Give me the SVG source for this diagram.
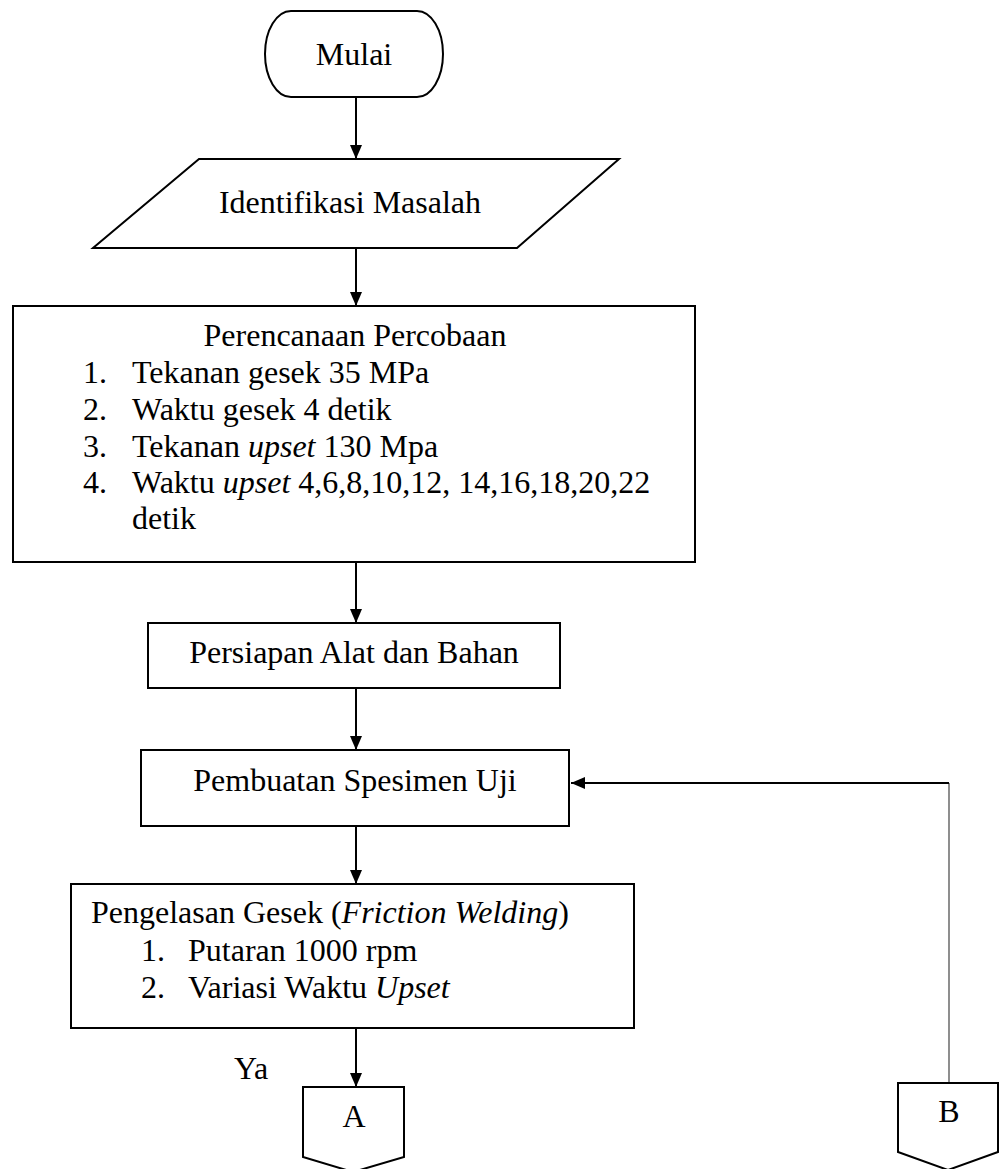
<svg xmlns="http://www.w3.org/2000/svg" width="1005" height="1169" viewBox="0 0 1005 1169">
<style>
.s{fill:#fff;stroke:#000;stroke-width:2}
.t{font-family:"Liberation Serif","Times New Roman",serif;font-size:32px;fill:#000}
.c{stroke:#000;stroke-width:2;fill:none}
.thin{stroke:#444;stroke-width:1.2;fill:none}
</style>
<defs>
<marker id="ah" markerUnits="userSpaceOnUse" markerWidth="14" markerHeight="12" refX="14" refY="6" orient="auto">
<path d="M0,0 L14,6 L0,12 z" fill="#000"/>
</marker>
</defs>
<rect width="1005" height="1169" fill="#fff"/>
<g id="connectors">
<line class="c" x1="356" y1="97" x2="356" y2="159" marker-end="url(#ah)"/>
<line class="c" x1="356" y1="248" x2="356" y2="306" marker-end="url(#ah)"/>
<line class="c" x1="356" y1="562" x2="356" y2="623" marker-end="url(#ah)"/>
<line class="c" x1="356" y1="688" x2="356" y2="750" marker-end="url(#ah)"/>
<line class="c" x1="356" y1="826" x2="356" y2="884" marker-end="url(#ah)"/>
<line class="c" x1="356" y1="1028" x2="356" y2="1087" marker-end="url(#ah)"/>
<line class="thin" x1="949" y1="1083" x2="949" y2="783"/>
<line class="c" x1="949" y1="783" x2="571" y2="783" marker-end="url(#ah)"/>
<text class="t" x="234" y="1079">Ya</text>
</g>
<g id="mulai">
<rect class="s" x="265" y="11" width="178" height="86" rx="26" ry="43"/>
<text class="t" x="354" y="65" text-anchor="middle">Mulai</text>
</g>
<g id="identifikasi">
<polygon class="s" points="199,159 619,159 517,248 93,248"/>
<text class="t" x="350" y="213" text-anchor="middle">Identifikasi Masalah</text>
</g>
<g id="perencanaan">
<rect class="s" x="13" y="306" width="682" height="256"/>
<text class="t" x="355" y="346" text-anchor="middle">Perencanaan Percobaan</text>
<text class="t" x="83" y="383">1.</text><text class="t" x="132" y="383">Tekanan gesek 35 MPa</text>
<text class="t" x="83" y="420">2.</text><text class="t" x="132" y="420">Waktu gesek 4 detik</text>
<text class="t" x="83" y="457">3.</text><text class="t" x="132" y="457">Tekanan <tspan font-style="italic">upset</tspan> 130 Mpa</text>
<text class="t" x="83" y="493">4.</text><text class="t" x="132" y="493">Waktu <tspan font-style="italic">upset</tspan> 4,6,8,10,12, 14,16,18,20,22</text>
<text class="t" x="132" y="529">detik</text>
</g>
<g id="persiapan">
<rect class="s" x="148" y="623" width="412" height="65"/>
<text class="t" x="354" y="663" text-anchor="middle">Persiapan Alat dan Bahan</text>
</g>
<g id="pembuatan">
<rect class="s" x="141" y="750" width="428" height="76"/>
<text class="t" x="355" y="791" text-anchor="middle">Pembuatan Spesimen Uji</text>
</g>
<g id="pengelasan">
<rect class="s" x="71" y="884" width="563" height="144"/>
<text class="t" x="91" y="923">Pengelasan Gesek (<tspan font-style="italic">Friction Welding</tspan>)</text>
<text class="t" x="141" y="961">1.</text><text class="t" x="188" y="961">Putaran 1000 rpm</text>
<text class="t" x="141" y="998">2.</text><text class="t" x="188" y="998">Variasi Waktu <tspan font-style="italic">Upset</tspan></text>
</g>
<g id="connA">
<polygon class="s" points="303,1087 404,1087 404,1157 353,1172 303,1157"/>
<text class="t" x="354" y="1127" text-anchor="middle">A</text>
</g>
<g id="connB">
<polygon class="s" points="898,1083 998,1083 998,1152 948,1170 898,1152"/>
<text class="t" x="949" y="1122" text-anchor="middle">B</text>
</g>
</svg>
